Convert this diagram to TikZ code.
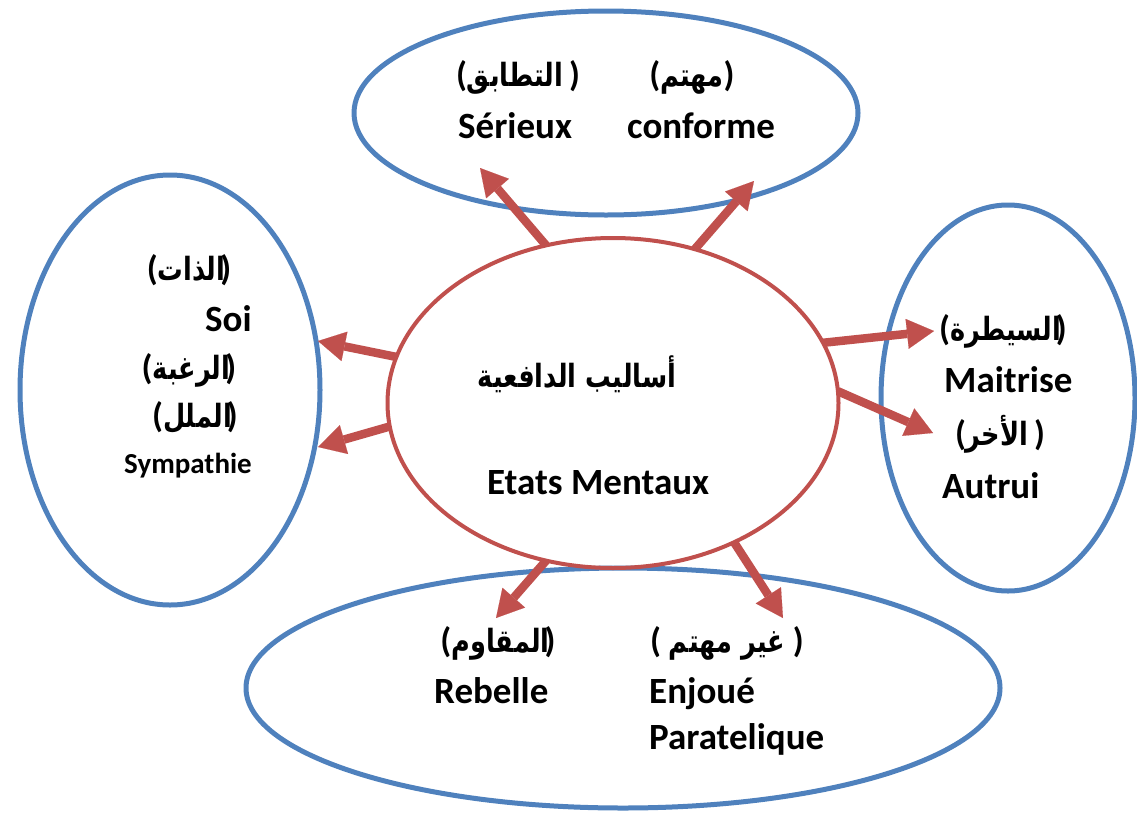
\documentclass[tikz,border=0pt]{standalone}
\usepackage{fontspec}
\setmainfont{Carlito}
\newfontfamily\arfont[Script=Arabic,FakeStretch=0.8]{DejaVu Sans}
\TeXXeTstate=1
\usetikzlibrary{shapes.geometric,arrows.meta}
\definecolor{ablue}{HTML}{4F81BD}
\definecolor{ared}{HTML}{C0504D}
\newcommand\artext[1]{{\arfont\fontsize{32}{36}\selectfont\bfseries\beginR #1\endR}}
\newcommand\rk{\kern-5pt}
\tikzset{
  bubble/.style={ellipse, draw=ablue, line width=5pt, inner sep=0pt, outer sep=0pt},
  core/.style={ellipse, draw=ared, line width=4pt, inner sep=0pt, outer sep=0pt},
  lat/.style={font=\fontsize{37}{40}\selectfont\bfseries, inner sep=0pt, anchor=base west},
  small/.style={font=\fontsize{29}{32}\selectfont\bfseries},
  ara/.style={font=\fontsize{35}{40}\selectfont\bfseries, inner sep=0pt, anchor=base},
  link/.style={draw=ared, line width=8.5pt, -{Triangle[width=30pt,length=27pt,line width=0.1pt]}},
}
\begin{document}
\begin{tikzpicture}[x=1pt,y=-1pt]
\useasboundingbox (0,0) rectangle (1137,814);
% outer ellipses
\node[bubble, minimum width=504pt, minimum height=204pt] (top) at (606,113) {};
\node[bubble, minimum width=300pt, minimum height=430pt] (left) at (170,390) {};
\node[bubble, minimum width=254pt, minimum height=386pt] (right) at (1008,398) {};
\node[bubble, minimum width=754pt, minimum height=240pt] (bottom) at (623,688) {};
% centre
\node[core, minimum width=451pt, minimum height=330pt] (c) at (613,403) {};
% arrow ends
\coordinate (e1) at (480,168);
\coordinate (e2) at (754,181);
\coordinate (e3) at (318,341);
\coordinate (e4) at (318,447);
\coordinate (e5) at (934,331);
\coordinate (e6) at (933,433);
\coordinate (e7) at (496,618);
\coordinate (e8) at (783,618);
\draw[link] (c.113) -- (e1);
\draw[link] (c.62) -- (e2);
\draw[link] (c.168) -- (e3);
\draw[link] (c.186) -- (e4);
\draw[link] (c.16) -- (e5);
\draw[link] (c.3) -- (e6);
\draw[link] (c.247) -- (e7);
\draw[link] (c.311) -- (e8);
% top texts
\node[ara] (tatabuq) at (518,86) {(\artext{التطابق}\hspace{6pt})};
\node[lat] (serieux) at (458,138) {Sérieux};
\node[ara] (muhtam) at (692,86) {(\artext{مهتم})};
\node[lat] (conforme) at (627,138) {conforme};
% left texts
\node[ara] (dhat) at (189,280) {(\artext{الذات}\rk)};
\node[lat] (soi) at (205,331) {Soi};
\node[ara] (raghba) at (189,379) {(\artext{الرغبة}\rk)};
\node[ara] (malal) at (195,427) {(\artext{الملل}\rk)};
\node[lat, small] (sympathie) at (124,473) {Sympathie};
% right texts
\node[ara] (saytara) at (1003,340) {(\artext{السيطرة}\rk)};
\node[lat] (maitrise) at (944,392) {Maitrise};
\node[ara] (akhar) at (1000,445) {(\artext{الأخر}\hspace{6pt})};
\node[lat] (autrui) at (942,498) {Autrui};
% centre texts
\node[ara] (asalib) at (577,387) {\artext{أساليب الدافعية}};
\node[lat] (etats) at (487,494) {Etats Mentaux};
% bottom texts
\node[ara] (muqawim) at (498,652) {(\artext{المقاوم}\rk)};
\node[lat] (rebelle) at (434,703) {Rebelle};
\node[ara] (ghayr) at (727,652) {( \artext{غير مهتم} )};
\node[lat] (enjoue) at (649,703) {Enjoué};
\node[lat] (paratelique) at (649,749) {Paratelique};
\end{tikzpicture}
\end{document}
